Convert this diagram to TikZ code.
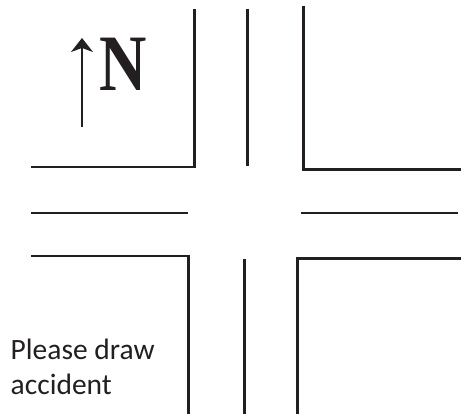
\documentclass[tikz,border=0pt]{standalone}
\usepackage{fontspec}
\setmainfont{Liberation Serif}
\newfontfamily\labelfont{Carlito}
\usetikzlibrary{arrows.meta}
\definecolor{ink}{HTML}{231F20}
\tikzset{
  road/.style={draw=ink,line width=2.5pt,line cap=butt,line join=miter},
  north/.style={draw=ink,line width=1.5pt,-{Stealth[length=14pt,width=22pt,inset=4pt]}},
  letter/.style={inner sep=0pt,text=ink},
  note/.style={inner sep=0pt,text=ink,align=left,anchor=north west}
}
\begin{document}
\begin{tikzpicture}[x=1pt,y=-1pt]
\useasboundingbox (0,0) rectangle (471,414);
\draw[road] (31,167) -- (194.5,167) -- (194.5,9);
\draw[road] (31,213) -- (188,213);
\draw[road] (31,256) -- (188.5,256) -- (188.5,414);
\draw[road] (247.5,9) -- (247.5,166);
\draw[road] (244.5,259) -- (244.5,414);
\draw[road] (303.5,6) -- (303.5,169.5) -- (461,169.5);
\draw[road] (301,213) -- (458,213);
\draw[road] (461,258.5) -- (297.5,258.5) -- (297.5,414);
\coordinate (tail) at (82,127);
\coordinate (tip) at (82,38);
\draw[north] (tail) -- (tip);
\node[letter] (n) at (123,64) {\scalebox{0.82}[1]{\fontsize{80}{80}\selectfont\bfseries N}};
\node[note,font=\labelfont\fontsize{29.5}{35}\selectfont] (txt) at (10.5,339) {Please draw\\accident};
\end{tikzpicture}
\end{document}
